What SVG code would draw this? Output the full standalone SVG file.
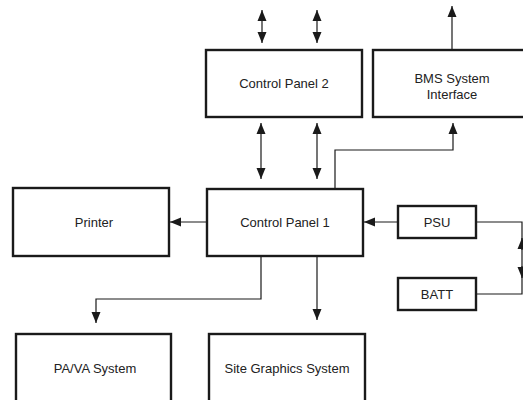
<svg xmlns="http://www.w3.org/2000/svg" width="523" height="400" viewBox="0 0 523 400">
<style>
.box{fill:#fff;stroke:#1a1a1a;stroke-width:2.4}
.lbl{font-family:"Liberation Sans",Arial,sans-serif;font-size:13px;fill:#222;text-anchor:middle}
.c{fill:none;stroke:#1a1a1a;stroke-width:1.2}
</style>
<defs>
<marker id="ah" markerUnits="userSpaceOnUse" markerWidth="12" markerHeight="12" viewBox="0 0 12 12" refX="11" refY="6" orient="auto-start-reverse">
<path d="M0,1.5 L11,6 L0,10.5 Z" fill="#1a1a1a"/>
</marker>
</defs>
<rect width="523" height="400" fill="#fff"/>
<g id="connectors">
<line class="c" x1="262" y1="10" x2="262" y2="43" marker-start="url(#ah)" marker-end="url(#ah)"/>
<line class="c" x1="317" y1="10" x2="317" y2="43" marker-start="url(#ah)" marker-end="url(#ah)"/>
<line class="c" x1="452" y1="50" x2="452" y2="6" marker-end="url(#ah)"/>
<line class="c" x1="261" y1="123" x2="261" y2="179" marker-start="url(#ah)" marker-end="url(#ah)"/>
<line class="c" x1="317" y1="123" x2="317" y2="179" marker-start="url(#ah)" marker-end="url(#ah)"/>
<polyline class="c" points="335,189 335,150 453,150 453,123" marker-end="url(#ah)"/>
<line class="c" x1="398" y1="222" x2="364" y2="222" marker-end="url(#ah)"/>
<line class="c" x1="207" y1="222" x2="170" y2="222" marker-end="url(#ah)"/>
<polyline class="c" points="261,256 261,299 96,299 96,323" marker-end="url(#ah)"/>
<line class="c" x1="317" y1="256" x2="317" y2="320" marker-end="url(#ah)"/>
<polyline class="c" points="476,222 522,222 522,294 476,294"/>
<line class="c" x1="522" y1="250" x2="522" y2="238" marker-end="url(#ah)"/>
<line class="c" x1="522" y1="266" x2="522" y2="278" marker-end="url(#ah)"/>
</g>
<g id="cp2"><rect class="box" x="206" y="50" width="156" height="67"/><text class="lbl" x="284" y="88">Control Panel 2</text></g>
<g id="bms"><rect class="box" x="373" y="50" width="152" height="67"/><text class="lbl" x="452" y="83">BMS System</text><text class="lbl" x="452" y="99">Interface</text></g>
<g id="cp1"><rect class="box" x="207" y="189" width="156" height="67"/><text class="lbl" x="285" y="227">Control Panel 1</text></g>
<g id="printer"><rect class="box" x="13" y="188" width="156" height="68"/><text class="lbl" x="94" y="227">Printer</text></g>
<g id="psu"><rect class="box" x="398" y="206" width="78" height="32"/><text class="lbl" x="437" y="227">PSU</text></g>
<g id="batt"><rect class="box" x="398" y="278" width="78" height="32"/><text class="lbl" x="437" y="299">BATT</text></g>
<g id="pava"><rect class="box" x="16" y="334" width="155" height="70"/><text class="lbl" x="95" y="373">PA/VA System</text></g>
<g id="sgs"><rect class="box" x="209" y="334" width="156" height="70"/><text class="lbl" x="287" y="373">Site Graphics System</text></g>
</svg>
